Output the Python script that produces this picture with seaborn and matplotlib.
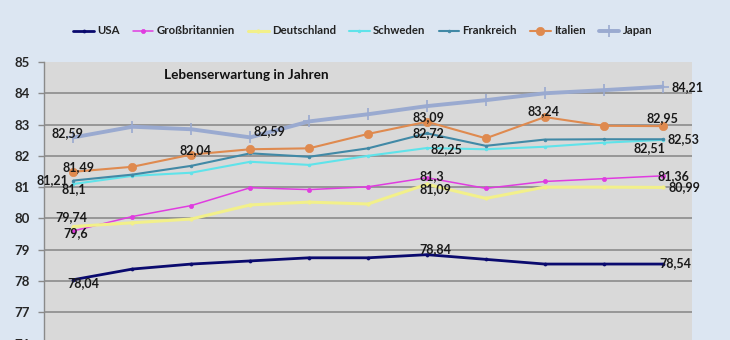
import matplotlib
matplotlib.use("Agg")
import matplotlib.pyplot as plt
import seaborn as sns
import pandas as pd

# ---- data ----
positions = list(range(11))
usa = [78.04, 78.38, 78.54, 78.64, 78.74, 78.74, 78.84, 78.69, 78.54, 78.54, 78.54]
gb = [79.60, 80.06, 80.41, 80.98, 80.92, 81.01, 81.30, 80.96, 81.18, 81.27, 81.36]
de = [79.74, 79.86, 79.98, 80.43, 80.52, 80.46, 81.09, 80.64, 81.00, 81.00, 80.99]
se = [81.10, 81.36, 81.46, 81.81, 81.71, 82.00, 82.25, 82.21, 82.29, 82.42, 82.51]
fr = [81.21, 81.40, 81.68, 82.08, 81.97, 82.24, 82.72, 82.32, 82.52, 82.53, 82.53]
it = [81.49, 81.65, 82.04, 82.21, 82.24, 82.70, 83.09, 82.56, 83.24, 82.96, 82.95]
jp = [82.59, 82.93, 82.85, 82.59, 83.10, 83.33, 83.59, 83.78, 84.00, 84.10, 84.21]
series_names = ["USA", "Großbritannien", "Deutschland", "Schweden", "Frankreich", "Italien", "Japan"]
yticks = [76, 77, 78, 79, 80, 81, 82, 83, 84, 85]
inner_title = "Lebenserwartung in Jahren"

# points that carry a value label: (series, index)
labelled = [
    ("Japan", 0), ("Italien", 0), ("Frankreich", 0), ("Schweden", 0),
    ("Italien", 2), ("Japan", 3), ("Italien", 6), ("Frankreich", 6),
    ("Schweden", 6), ("Großbritannien", 6), ("Deutschland", 6), ("USA", 6),
    ("Japan", 10), ("Italien", 8), ("Italien", 10), ("Frankreich", 10),
    ("Schweden", 10), ("Großbritannien", 10), ("Deutschland", 10),
    ("Deutschland", 0), ("Großbritannien", 0), ("USA", 0), ("USA", 10),
]
# label offsets in pixels (style only)
label_offsets = [
    (-6, 4), (5, 5), (-21, 0), (0, -5),
    (4, 5), (19, 6), (2, 5), (2, 0),
    (20, -1), (5, 2), (9, -5), (8, 5.5),
    (25, 0), (-1, 5.5), (0, 8.5), (21, 0),
    (-13, -8.5), (11, 0), (22, 0),
    (-2, 9), (2, -2), (10, -3), (13, 1),
]

values = {"USA": usa, "Großbritannien": gb, "Deutschland": de, "Schweden": se,
          "Frankreich": fr, "Italien": it, "Japan": jp}
rows = []
for name in series_names:
    for p, v in zip(positions, values[name]):
        rows.append({"pos": p, "wert": v, "land": name})
df = pd.DataFrame(rows)

styles = {
    "USA": dict(color="#0a0a6e", lw=2.0, marker="o", ms=2.2),
    "Großbritannien": dict(color="#e03ce0", lw=1.1, marker="o", ms=3),
    "Deutschland": dict(color="#f2f08a", lw=2.2, marker="o", ms=2.5),
    "Schweden": dict(color="#5fe3ea", lw=1.5, marker="o", ms=2),
    "Frankreich": dict(color="#4189a6", lw=1.5, marker="o", ms=2),
    "Italien": dict(color="#df8a4f", lw=1.5, marker="o", ms=6),
    "Japan": dict(color="#9aaad0", lw=2.8, marker="+", ms=9),
}

sns.set_theme(style="white")
FONT = ["Lato", "DejaVu Sans"]
plt.rcParams["font.family"] = FONT

fig = plt.figure(figsize=(7.3, 3.4), dpi=100)
fig.patch.set_facecolor("#dce6f2")
ax_bottom = (340 - 343.5) / 340
ax_top = (340 - 62) / 340
ax = fig.add_axes([44 / 730, ax_bottom, (692 - 44) / 730, ax_top - ax_bottom])
ax.set_facecolor("#d9d9d9")

handles = []
for name in series_names:
    st = styles[name]
    sub = df[df["land"] == name]
    sns.lineplot(data=sub, x="pos", y="wert", ax=ax, color=st["color"],
                 linewidth=st["lw"], marker=st["marker"], markersize=st["ms"],
                 markeredgecolor=st["color"], markeredgewidth=1.2 if st["marker"] == "+" else 0.5,
                 legend=False, label=name)
    handles.append(ax.lines[-1])

ax.set_xlim(-0.5, 10.5)
ax.set_ylim(76, 85)
ax.set_yticks(yticks)
ax.set_yticklabels([str(t) for t in yticks], fontsize=9.5, fontweight="bold", color="#262626")
ax.set_xticks([])
ax.set_xlabel("")
ax.set_ylabel("")
for t in yticks[:-1]:
    ax.axhline(t, color="#858585", lw=1.1, zorder=0.5)
for s in ["top", "right", "bottom"]:
    ax.spines[s].set_visible(False)
ax.spines["left"].set_color("#8a8a8a")
ax.spines["left"].set_linewidth(1.0)
ax.tick_params(axis="y", direction="out", length=4, width=1, color="#8a8a8a", pad=6, left=True)

fig.text(164 / 730, 1 - 75 / 340, inner_title, fontsize=9.8, fontweight="bold",
         color="#111111", va="center", ha="left")

for (name, i), (dx, dy) in zip(labelled, label_offsets):
    v = values[name][i]
    txt = f"{v:g}".replace(".", ",")
    ax.annotate(txt, xy=(positions[i], v), xytext=(dx, dy), textcoords="offset pixels",
                ha="center", va="center", fontsize=9, fontweight="bold", color="#1a1a1a",
                zorder=10)

fig.legend(handles, series_names, loc="center", bbox_to_anchor=(0.497, 1 - 31 / 340),
           ncol=7, frameon=False, prop={"size": 8.2, "weight": "bold"},
           handlelength=1.8, handletextpad=0.3, columnspacing=1.15, labelcolor="#222222")

fig.savefig("out.png", dpi=100, facecolor=fig.get_facecolor())
